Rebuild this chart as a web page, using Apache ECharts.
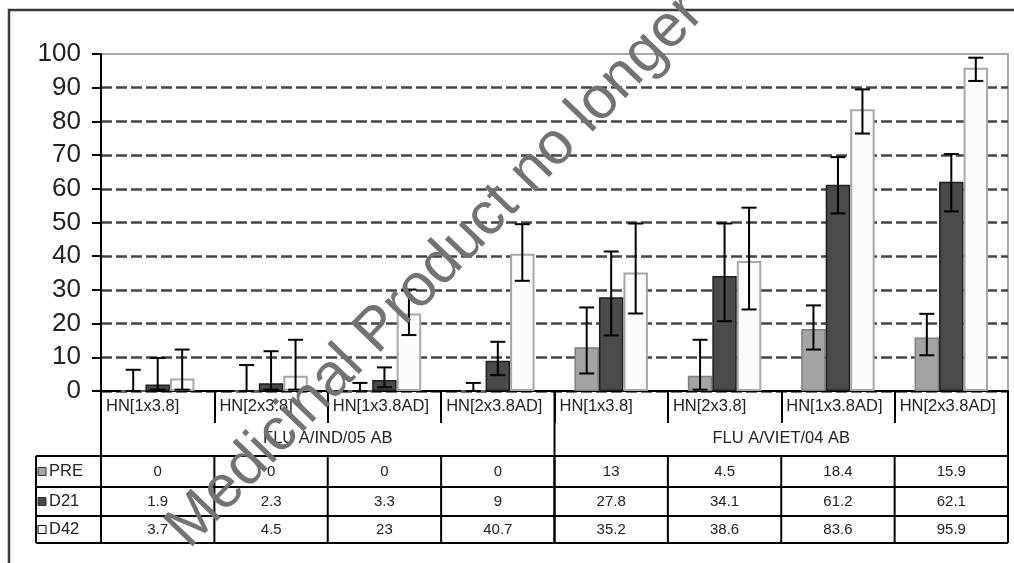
<!DOCTYPE html>
<html><head><meta charset="utf-8">
<script src="https://cdn.jsdelivr.net/npm/echarts@6/dist/echarts.min.js"></script>
<style>html,body{margin:0;padding:0;background:#fff}#c{width:1014px;height:563px}</style>
</head><body><div id="c"></div>
<script>
// ---- data ----
const categories = ['HN[1x3.8]','HN[2x3.8]','HN[1x3.8AD]','HN[2x3.8AD]','HN[1x3.8]','HN[2x3.8]','HN[1x3.8AD]','HN[2x3.8AD]'];
const groupLabels = ['FLU A/IND/05 AB','FLU A/VIET/04 AB'];
const groupSpans = [4, 4];
const seriesNames = ['PRE','D21','D42'];
const preValues = [0,0,0,0,13,4.5,18.4,15.9];
const d21Values = [1.9,2.3,3.3,9,27.8,34.1,61.2,62.1];
const d42Values = [3.7,4.5,23,40.7,35.2,38.6,83.6,95.9];
const preLow  = [0,0,0,0,5.2,0.4,12.3,10.6];
const preHigh = [6.3,7.7,2.4,2.4,24.8,15.2,25.4,22.9];
const d21Low  = [0.4,0.4,1.1,4.7,16.5,20.7,52.7,53.3];
const d21High = [9.8,11.8,7.0,14.6,41.4,49.7,69.4,70.3];
const d42Low  = [0.4,0.4,16.6,32.7,23.0,24.2,76.4,92.0];
const d42High = [12.3,15.2,30.1,49.5,49.7,54.4,89.5,98.9];
const yMin = 0, yMax = 100, yInterval = 10;
const watermarkText = 'Medicinal Product no longer';

// ---- styles ----
const FONT = '"Liberation Sans", Arial, sans-serif';
const BAR_FRAC = 0.216;
const barStyles = [
  {color:'#a4a4a4', borderColor:'#7e7e7e', borderWidth:1.5},
  {color:'#4a4a4a', borderColor:'#1e1e1e', borderWidth:1.5},
  {color:'#fcfcfc', borderColor:'#a8a8a8', borderWidth:2}
];
const allValues = [preValues, d21Values, d42Values];
const allLow = [preLow, d21Low, d42Low];
const allHigh = [preHigh, d21High, d42High];

const chart = echarts.init(document.getElementById('c'), null, {renderer:'canvas'});

const nTicks = Math.round((yMax - yMin) / yInterval) + 1;
const splitColors = [];
for (let i = 0; i < nTicks; i++) splitColors.push(i === nTicks - 1 ? 'rgba(0,0,0,0)' : '#444');

function errSeries(idx) {
  return {
    type: 'custom', name: seriesNames[idx] + ' err', z: 5, silent: true,
    data: allLow[idx].map((l, i) => [i, l, allHigh[idx][i]]),
    encode: {x: 0, y: [1, 2]},
    renderItem: (params, api) => {
      const i = api.value(0);
      const lo = api.coord([i, api.value(1)]);
      const hi = api.coord([i, api.value(2)]);
      const band = api.size([1, 0])[0];
      const x = lo[0] + (idx - 1) * band * BAR_FRAC;
      const cap = 7.5;
      const st = {stroke: '#000', lineWidth: 2};
      return {type: 'group', children: [
        {type: 'line', shape: {x1: x, y1: lo[1], x2: x, y2: hi[1]}, style: st},
        {type: 'line', shape: {x1: x - cap, y1: hi[1], x2: x + cap, y2: hi[1]}, style: st},
        {type: 'line', shape: {x1: x - cap, y1: lo[1], x2: x + cap, y2: lo[1]}, style: st}
      ]};
    }
  };
}

const series = [];
for (let k = 0; k < 3; k++) {
  series.push({
    type: 'bar', name: seriesNames[k], data: allValues[k],
    barWidth: (BAR_FRAC * 100) + '%', barGap: '0%',
    itemStyle: barStyles[k], z: 2, silent: true
  });
}
for (let k = 0; k < 3; k++) series.push(errSeries(k));

chart.setOption({
  animation: false,
  backgroundColor: '#fff',
  grid: {left: 101, right: 6, top: 54, bottom: 172, show: true, borderColor: '#a8a8a8', borderWidth: 2, backgroundColor: 'transparent'},
  xAxis: {
    type: 'category', data: categories,
    axisLine: {show: true, lineStyle: {color: '#000', width: 2}},
    axisTick: {show: true, interval: 0, length: 32, lineStyle: {color: '#000', width: 2}},
    axisLabel: {show: false},
    splitLine: {show: false}
  },
  yAxis: {
    type: 'value', min: yMin, max: yMax, interval: yInterval,
    axisLine: {show: true, lineStyle: {color: '#000', width: 2}},
    axisTick: {show: true, inside: false, length: 9, lineStyle: {color: '#000', width: 2}},
    axisLabel: {color: '#222', fontSize: 26, fontFamily: FONT, margin: 20},
    splitLine: {show: true, lineStyle: {color: splitColors, width: 2.5, type: [11, 4]}}
  },
  series: series
});

// ---- data table & decorations (positions derived from the axes) ----
const centers = categories.map((c, i) => chart.convertToPixel({xAxisIndex: 0}, i));
const band = centers[1] - centers[0];
const bounds = centers.map(c => c - band / 2);
bounds.push(centers[centers.length - 1] + band / 2);
const y0 = chart.convertToPixel({yAxisIndex: 0}, 0);
const tableTop = y0 + 65;
const rowLines = [tableTop, y0 + 96, y0 + 125, y0 + 152];
const tableLeft = 36;
const left = bounds[0], right = bounds[bounds.length - 1];

const g = [];
const ls = {stroke: '#000', lineWidth: 2};
function hline(x1, x2, y) { g.push({type: 'line', shape: {x1, y1: y, x2, y2: y}, style: ls, z: 10}); }
function vline(x, y1, y2) { g.push({type: 'line', shape: {x1: x, y1, x2: x, y2}, style: ls, z: 10}); }

rowLines.forEach(y => hline(tableLeft, right, y));
vline(tableLeft, tableTop, rowLines[3]);
vline(left, y0, rowLines[3]);
vline(right, y0, rowLines[3]);
let acc = 0;
groupSpans.forEach(sp => { acc += sp; if (acc < categories.length) vline(bounds[acc], y0, rowLines[3]); });
for (let i = 1; i < categories.length; i++) vline(bounds[i], tableTop, rowLines[3]);

// category labels
categories.forEach((c, i) => g.push({type: 'text', z: 11, style: {text: c, x: bounds[i] + 5, y: y0 + 15, font: '16.5px ' + FONT, fill: '#222', align: 'left', verticalAlign: 'middle'}}));
// group labels
acc = 0;
groupLabels.forEach((lab, gi) => {
  const a = bounds[acc], b = bounds[acc + groupSpans[gi]];
  acc += groupSpans[gi];
  g.push({type: 'text', z: 11, style: {text: lab, x: (a + b) / 2, y: y0 + 47, font: '16.5px ' + FONT, fill: '#222', align: 'center', verticalAlign: 'middle'}});
});
// rows
for (let k = 0; k < 3; k++) {
  const yc = (rowLines[k] + rowLines[k + 1]) / 2;
  g.push({type: 'rect', z: 11, shape: {x: tableLeft + 2, y: yc - 4, width: 8, height: 8}, style: {fill: barStyles[k].color, stroke: k === 2 ? '#000' : '#333', lineWidth: 1}});
  g.push({type: 'text', z: 11, style: {text: seriesNames[k], x: tableLeft + 13, y: yc, font: '16.5px ' + FONT, fill: '#222', align: 'left', verticalAlign: 'middle'}});
  allValues[k].forEach((v, i) => g.push({type: 'text', z: 11, style: {text: String(v), x: centers[i], y: yc, font: '15px ' + FONT, fill: '#222', align: 'center', verticalAlign: 'middle'}}));
}
// outer frame
g.push({type: 'polyline', z: 12, shape: {points: [[9, 563], [9, 10], [1014, 10]]}, style: {stroke: '#3a3a3a', lineWidth: 2.5, fill: null}});
// watermark
g.push({type: 'text', z: 20, x: 199, y: 559, rotation: 46 * Math.PI / 180, style: {text: watermarkText, x: 0, y: 0, font: '60px "Liberation Sans", Arial, sans-serif', fill: '#737373', align: 'left', verticalAlign: 'bottom'}});

chart.setOption({graphic: g});
</script>
</body></html>
